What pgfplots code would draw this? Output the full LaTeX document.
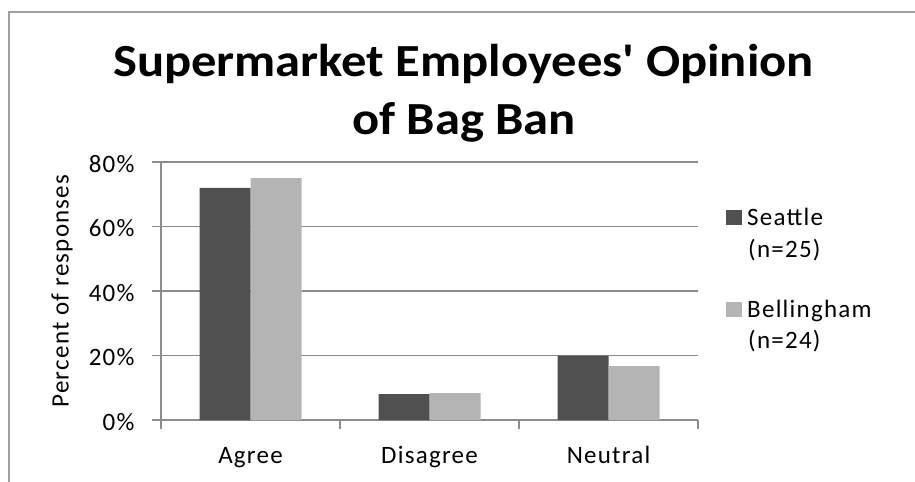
\documentclass[border=0pt]{standalone}
\usepackage{fontspec}
\setmainfont{Carlito}[LetterSpace=5]
\newfontfamily\titlefont{Carlito}[FakeStretch=1.1]
\usepackage{pgfplots}
\pgfplotsset{compat=1.18}
\definecolor{darkbar}{HTML}{505050}
\definecolor{lightbar}{HTML}{B4B4B4}
\definecolor{gridc}{HTML}{8C8C8C}
\definecolor{borderc}{HTML}{A0A0A0}
\newcommand{\lblfont}{\fontsize{25bp}{29bp}\selectfont}
\begin{document}
\begin{tikzpicture}[x=1bp,y=1bp]
\begin{axis}[
  at={(161bp,-420bp)}, anchor=south west,
  scale only axis, width=537bp, height=258bp,
  xmin=-0.5, xmax=2.5, ymin=0, ymax=80,
  ybar, bar width=51bp,
  axis x line*=bottom, axis y line*=left,
  axis line style={-, draw=gridc, line width=1.3bp},
  xtick={-0.5,0.5,1.5,2.5},
  xticklabels={Agree,Disagree,Neutral},
  x tick label as interval,
  ytick={0,20,40,60,80},
  yticklabels={0\%,20\%,40\%,60\%,80\%},
  tick align=outside, major tick length=9bp,
  tick style={draw=gridc, line width=1.3bp},
  ymajorgrids, major grid style={draw=gridc, line width=1.3bp},
  every tick label/.append style={font=\lblfont, text=black},
  xticklabel style={anchor=base, yshift=-34bp},
  yticklabel style={anchor=east, xshift=-14bp, yshift=-2bp},
  /pgf/number format/assume math mode=true,
  ylabel={Percent of responses},
  every axis y label/.style={at={(axis description cs:-0.1844,0.5)}, rotate=90, anchor=center, font=\lblfont},
]
\addplot[fill=darkbar, draw=none, bar shift=-25.5bp] coordinates {(0,72) (1,8) (2,20)};
\addplot[fill=lightbar, draw=none, bar shift=25.5bp] coordinates {(0,75) (1,8.3) (2,16.7)};
\end{axis}
\node[anchor=base, inner sep=0] at (463.5,-77) {\titlefont\bfseries\fontsize{46bp}{56bp}\selectfont Supermarket Employees' Opinion};
\node[anchor=base, inner sep=0] at (464,-135) {\titlefont\bfseries\fontsize{46bp}{56bp}\selectfont of Bag Ban};
\fill[darkbar] (726,-210) rectangle (742,-225);
\node[anchor=base west, inner sep=0, font=\lblfont] at (747,-226) {Seattle};
\node[anchor=base west, inner sep=0, font=\lblfont] at (748,-258) {(n=25)};
\fill[lightbar] (726,-302) rectangle (742,-317);
\node[anchor=base west, inner sep=0, font=\lblfont] at (747,-318) {Bellingham};
\node[anchor=base west, inner sep=0, font=\lblfont] at (748,-349) {(n=24)};
\draw[borderc, line width=1.3bp] (9,-700) -- (9,-12) -- (1200,-12);
\pgfresetboundingbox
\useasboundingbox (0,0) rectangle (915,-482);
\end{tikzpicture}
\end{document}
